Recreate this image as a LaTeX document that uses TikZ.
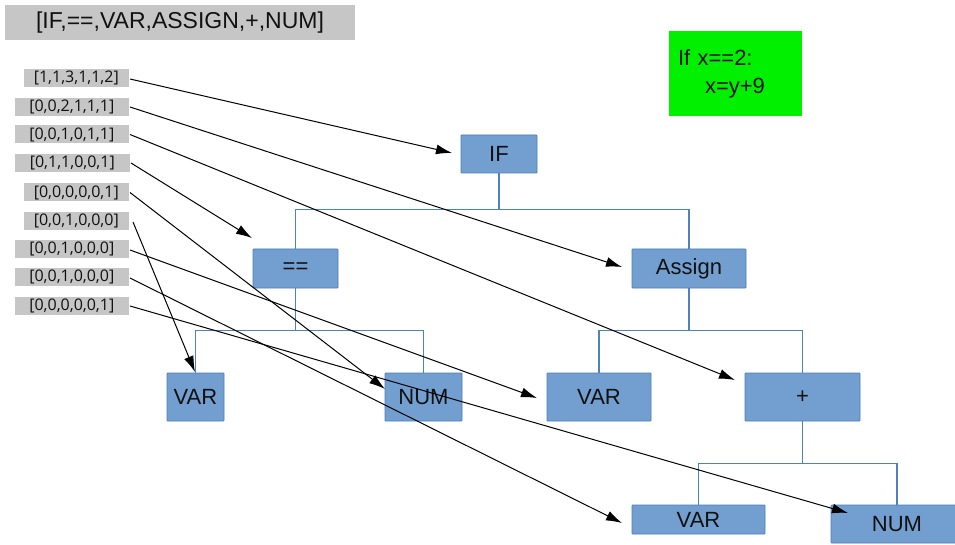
\documentclass[tikz,border=0pt]{standalone}
\usepackage{fontspec}
\setmainfont{Liberation Sans}
\newfontfamily\labfont{Open Sans}
\usetikzlibrary{arrows.meta}
\definecolor{nodefill}{HTML}{729FCF}
\definecolor{nodeline}{HTML}{4A7EBB}
\definecolor{treeline}{HTML}{4F81BD}
\definecolor{graybox}{HTML}{C6C6C6}
\definecolor{codegreen}{HTML}{00F000}
\definecolor{txt}{HTML}{111111}
\tikzset{
  ast/.style={draw=nodeline, fill=nodefill, line width=0.8pt, inner sep=0pt, rounded corners=0.8pt,
    text=txt, font=\fontsize{22}{26}\selectfont},
  lab/.style={fill=graybox, minimum height=18pt, inner sep=0pt, anchor=east, text=txt,
    font=\labfont\fontsize{16}{18}\selectfont},
  tree/.style={draw=treeline, line width=1.3pt},
  arr/.style={draw=black, line width=1pt, -{Latex[length=16pt,width=10pt]}},
}
\begin{document}
\begin{tikzpicture}[x=1pt,y=-1pt]
\clip (0,0) rectangle (955,545);
\fill[white] (0,0) rectangle (955,545);

% title and code
\node (title) [fill=graybox, minimum width=350pt, minimum height=35pt, inner sep=0pt, text=txt,
  font=\fontsize{23}{26}\selectfont] at (180,22.5) {[IF,==,VAR,ASSIGN,+,NUM]};
\node (code) [fill=codegreen, minimum height=85pt, inner xsep=9pt, inner ysep=0pt, text width=115pt,
  align=left, text=txt, font=\fontsize{22}{28}\selectfont] at (735.5,73.5)
  {If x==2:\\\hspace*{27pt}x=y+9};

% vectors
\node (l1) [lab, minimum width=105pt] at (129,78) {[1,1,3,1,1,2]};
\node (l2) [lab, minimum width=114pt] at (129,107) {[0,0,2,1,1,1]};
\node (l3) [lab, minimum width=114pt] at (129,134.5) {[0,0,1,0,1,1]};
\node (l4) [lab, minimum width=115pt] at (130,163) {[0,1,1,0,0,1]};
\node (l5) [lab, minimum width=105pt] at (129,192.5) {[0,0,0,0,0,1]};
\node (l6) [lab, minimum width=105pt] at (129,221) {[0,0,1,0,0,0]};
\node (l7) [lab, minimum width=114pt] at (129,249) {[0,0,1,0,0,0]};
\node (l8) [lab, minimum width=114pt] at (129,277) {[0,0,1,0,0,0]};
\node (l9) [lab, minimum width=114pt] at (129,306) {[0,0,0,0,0,1]};

% tree nodes
\node (if) [ast, minimum width=76pt, minimum height=38pt] at (499,154) {IF};
\node (eq) [ast, minimum width=85pt, minimum height=39pt] at (295.5,268.5) {==};
\node (as) [ast, minimum width=114pt, minimum height=39pt] at (689,268.5) {Assign};
\node (var1) [ast, minimum width=57pt, minimum height=48pt] at (195.5,397) {VAR};
\node (num1) [ast, minimum width=77pt, minimum height=48pt] at (423.5,397) {NUM};
\node (var2) [ast, minimum width=104pt, minimum height=48pt] at (599,397) {VAR};
\node (plus) [ast, minimum width=115pt, minimum height=48pt] at (802.5,397) {+};
\node (var3) [ast, minimum width=133pt, minimum height=29pt] at (698.5,519.5) {VAR};
\node (num3) [ast, minimum width=132pt, minimum height=38pt] at (897,524) {NUM};

% tree edges
\draw[tree] (if.south) -- ++(0,36) -| (eq.north);
\draw[tree] (if.south) -- ++(0,36) -| (as.north);
\draw[tree] (eq.south) -- ++(0,42) -| (var1.north);
\draw[tree] (eq.south) -- ++(0,42) -| (num1.north);
\draw[tree] (as.south) -- ++(0,42) -| (var2.north);
\draw[tree] (as.south) -- ++(0,42) -| (plus.north);
\draw[tree] (plus.south) -- ++(0,42) -| (var3.north);
\draw[tree] (plus.south) -- ++(0,42) -| (num3.north);

% arrow tips
\coordinate (t1) at (452,153);
\coordinate (t2) at (622,267);
\coordinate (t3) at (735,380);
\coordinate (t4) at (252,238);
\coordinate (t5) at (385,389);
\coordinate (t6) at (195,372);
\coordinate (t7) at (537,398);
\coordinate (t8) at (622,523);
\coordinate (t9) at (848,513);

\draw[arr] (l1.east) ++(1,1) -- (t1);
\draw[arr] (l2.east) ++(1,0) -- (t2);
\draw[arr] (l3.east) ++(1,0) -- (t3);
\draw[arr] (l4.east) ++(1,0) -- (t4);
\draw[arr] (l5.east) ++(1,0) -- (t5);
\draw[arr] (l6.east) ++(4,1) -- (t6);
\draw[arr] (l7.east) ++(1,1) -- (t7);
\draw[arr] (l8.east) ++(1,1) -- (t8);
\draw[arr] (l9.east) ++(1,0) -- (t9);
\end{tikzpicture}
\end{document}
